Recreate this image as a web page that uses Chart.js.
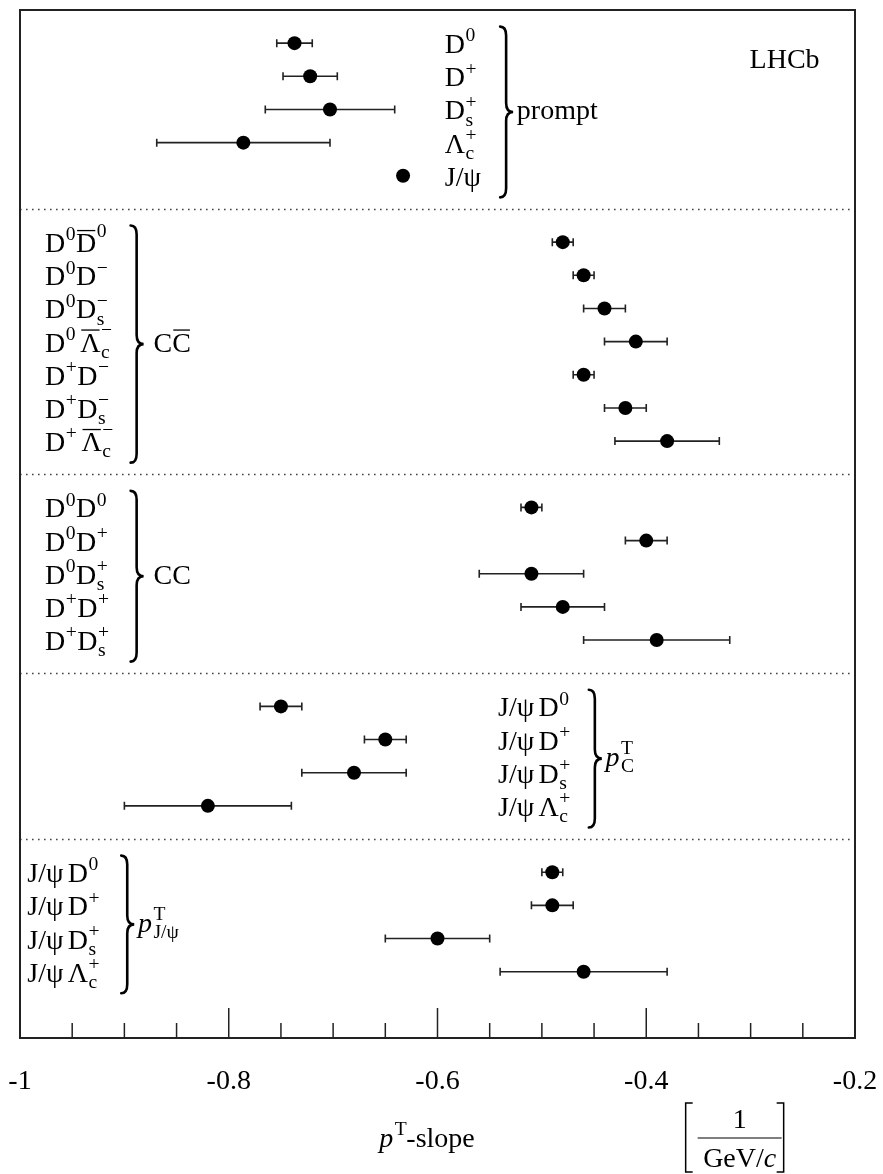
<!DOCTYPE html>
<html>
<head>
<meta charset="utf-8">
<script src="https://cdn.jsdelivr.net/npm/chart.js@4.4.0/dist/chart.umd.min.js"></script>
<style>
  html, body { margin: 0; padding: 0; background: #fff; }
  #wrap { width: 883px; height: 1174px; }
</style>
</head>
<body>
<div id="wrap"><canvas id="chart" width="883" height="1174"></canvas></div>
<script>
// pT-slope values (1/(GeV/c)), block by block
const promptNames = ["D^0", "D^+", "D_s^+", "Λ_c^+", "J/ψ"];
const promptSlope = [-0.737, -0.722, -0.703, -0.786, -0.633];
const promptErr = [0.017, 0.026, 0.062, 0.083, 0];

const ccbarNames = ["D^0~D^0", "D^0D^−", "D^0D_s^−", "D^0\u2009~Λ_c^−", "D^+D^−", "D^+D_s^−", "D^+\u2009~Λ_c^−"];
const ccbarSlope = [-0.48, -0.46, -0.44, -0.41, -0.46, -0.42, -0.38];
const ccbarErr = [0.01, 0.01, 0.02, 0.03, 0.01, 0.02, 0.05];

const ccNames = ["D^0D^0", "D^0D^+", "D^0D_s^+", "D^+D^+", "D^+D_s^+"];
const ccSlope = [-0.51, -0.40, -0.51, -0.48, -0.39];
const ccErr = [0.01, 0.02, 0.05, 0.04, 0.07];

const pcNames = ["J/ψ\u2009D^0", "J/ψ\u2009D^+", "J/ψ\u2009D_s^+", "J/ψ\u2009Λ_c^+"];
const pcSlope = [-0.75, -0.65, -0.68, -0.82];
const pcErr = [0.02, 0.02, 0.05, 0.08];

const ppsiNames = ["J/ψ\u2009D^0", "J/ψ\u2009D^+", "J/ψ\u2009D_s^+", "J/ψ\u2009Λ_c^+"];
const ppsiSlope = [-0.49, -0.49, -0.60, -0.46];
const ppsiErr = [0.01, 0.02, 0.05, 0.08];

const groupTitles = ["prompt", "C~C", "CC", "*p_C^T", "*p_{J/ψ}^T"];
const xTicks = { min: -1, max: -0.2, step: 0.05 };

// where the row labels / braces sit, in x-axis units
const labelPos = [
  { label: -0.593, brace: -0.540, title: -0.524 },
  { label: -0.976, brace: -0.894, title: -0.872 },
  { label: -0.976, brace: -0.894, title: -0.872 },
  { label: -0.542, brace: -0.455, title: -0.439 },
  { label: -0.993, brace: -0.903, title: -0.887 }
];

const groups = [
  { names: promptNames, slope: promptSlope, err: promptErr },
  { names: ccbarNames, slope: ccbarSlope, err: ccbarErr },
  { names: ccNames, slope: ccSlope, err: ccErr },
  { names: pcNames, slope: pcSlope, err: pcErr },
  { names: ppsiNames, slope: ppsiSlope, err: ppsiErr }
];

// one empty row above and below every block
let next = 0;
groups.forEach((g, k) => {
  g.title = groupTitles[k];
  g.sep = next;
  g.rows = g.names.map((_, i) => next + 1 + i);
  next += g.names.length + 1;
});
const yMax = next + 1;

const FONT = '"Liberation Serif", "Times New Roman", serif';
const fnt = (size, ital) => (ital ? "italic " : "") + size + "px " + FONT;

// tiny markup: ^x sup, _x sub, ~ overline next char, * italic next char
function parseLabel(s) {
  const out = [];
  let i = 0, bar = false, ital = false;
  const grab = () => {
    if (s[i] === "{") {
      const j = s.indexOf("}", i);
      const r = s.slice(i + 1, j);
      i = j + 1;
      return r;
    }
    return s[i++];
  };
  while (i < s.length) {
    const c = s[i];
    if (c === "^") { i++; out[out.length - 1].sup = grab(); }
    else if (c === "_") { i++; out[out.length - 1].sub = grab(); }
    else if (c === "~") { bar = true; i++; }
    else if (c === "*") { ital = true; i++; }
    else { out.push({ t: c, bar, ital }); bar = false; ital = false; i++; }
  }
  return out;
}

function drawRich(ctx, s, x, y, size, align) {
  const toks = parseLabel(s);
  const ss = size * 0.7;
  let total = 0;
  const parts = toks.map(t => {
    ctx.font = fnt(size, t.ital);
    const bw = t.t === "\u2009" ? size * 0.15 : ctx.measureText(t.t).width;
    ctx.font = fnt(ss);
    const supw = t.sup ? ctx.measureText(t.sup).width : 0;
    const subw = t.sub ? ctx.measureText(t.sub).width : 0;
    const w = bw + Math.max(supw, subw) + (t.sup || t.sub ? 1 : 0);
    total += w;
    return { t, bw, w };
  });
  let cx = align === "center" ? x - total / 2 : x;
  ctx.textAlign = "left";
  ctx.textBaseline = "alphabetic";
  ctx.fillStyle = "#000";
  for (const p of parts) {
    const t = p.t;
    ctx.font = fnt(size, t.ital);
    if (t.t !== "\u2009") ctx.fillText(t.t, cx, y);
    if (t.bar) {
      ctx.beginPath();
      ctx.lineWidth = 1.3;
      ctx.strokeStyle = "#000";
      ctx.moveTo(cx + 1, y - size * 0.77);
      ctx.lineTo(cx + p.bw - 1, y - size * 0.77);
      ctx.stroke();
    }
    const sx = cx + p.bw + (t.ital ? 1.5 : 0.5);
    ctx.font = fnt(ss);
    if (t.sup) ctx.fillText(t.sup, sx, y - size * (t.bar ? 0.55 : 0.42));
    if (t.sub) ctx.fillText(t.sub, sx, y + size * 0.22);
    cx += p.w;
  }
}

function drawBrace(ctx, x, y1, y2) {
  const w = 13, r = 6, m = (y1 + y2) / 2;
  ctx.beginPath();
  ctx.lineWidth = 2.6;
  ctx.lineCap = "round";
  ctx.strokeStyle = "#000";
  ctx.moveTo(x, y1);
  ctx.quadraticCurveTo(x + r, y1, x + r, y1 + 9);
  ctx.lineTo(x + r, m - 9);
  ctx.quadraticCurveTo(x + r, m, x + w, m);
  ctx.quadraticCurveTo(x + r, m, x + r, m + 9);
  ctx.lineTo(x + r, y2 - 9);
  ctx.quadraticCurveTo(x + r, y2, x, y2);
  ctx.stroke();
  ctx.lineCap = "butt";
}

const isMajor = v => Math.abs(v * 5 - Math.round(v * 5)) < 1e-6;

const decor = {
  id: "decor",
  beforeDatasetsDraw(chart) {
    const { ctx, chartArea: a, scales: { x, y } } = chart;
    ctx.save();
    // dotted separators between blocks
    ctx.strokeStyle = "#444";
    ctx.lineWidth = 1.4;
    ctx.setLineDash([1.6, 4.4]);
    groups.slice(1).forEach(g => {
      const py = Math.round(y.getPixelForValue(g.sep)) + 0.5;
      ctx.beginPath();
      ctx.moveTo(a.left, py);
      ctx.lineTo(a.right, py);
      ctx.stroke();
    });
    ctx.setLineDash([]);
    // horizontal error bars
    ctx.strokeStyle = "#222";
    ctx.lineWidth = 1.6;
    groups.forEach(g => {
      g.slope.forEach((v, i) => {
        const e = g.err[i];
        if (!e) return;
        const py = y.getPixelForValue(g.rows[i]);
        const x1 = x.getPixelForValue(v - e), x2 = x.getPixelForValue(v + e);
        ctx.beginPath();
        ctx.moveTo(x1, py); ctx.lineTo(x2, py);
        ctx.moveTo(x1, py - 4); ctx.lineTo(x1, py + 4);
        ctx.moveTo(x2, py - 4); ctx.lineTo(x2, py + 4);
        ctx.stroke();
      });
    });
    ctx.restore();
  },
  afterDraw(chart) {
    const { ctx, chartArea: a, scales: { x, y } } = chart;
    ctx.save();
    // frame
    ctx.strokeStyle = "#222";
    ctx.lineWidth = 2;
    ctx.strokeRect(a.left, a.top, a.right - a.left, a.bottom - a.top);
    // inward tick marks
    ctx.lineWidth = 1.5;
    x.ticks.forEach(t => {
      const px = x.getPixelForValue(t.value);
      const len = isMajor(t.value) ? 30 : 15;
      ctx.beginPath();
      ctx.moveTo(px, a.bottom);
      ctx.lineTo(px, a.bottom - len);
      ctx.stroke();
    });
    // row labels, braces and block names
    const size = 28;
    groups.forEach((g, k) => {
      const lp = labelPos[k];
      g.names.forEach((n, i) => {
        drawRich(ctx, n, x.getPixelForValue(lp.label), y.getPixelForValue(g.rows[i]) + 10, size, "left");
      });
      const first = g.rows[0], last = g.rows[g.rows.length - 1];
      drawBrace(ctx, x.getPixelForValue(lp.brace), y.getPixelForValue(first - 0.5), y.getPixelForValue(last + 0.65));
      drawRich(ctx, g.title, x.getPixelForValue(lp.title), y.getPixelForValue((first + last) / 2) + 10, size, "left");
    });
    drawRich(ctx, "LHCb", x.getPixelForValue(-0.301), y.getPixelForValue(1.45) + 10, size, "left");
    // axis title and unit
    drawRich(ctx, "*p^T-slope", x.getPixelForValue(-0.61), a.bottom + 109, size, "center");
    const ux = x.getPixelForValue(-0.3105);
    ctx.font = fnt(size);
    ctx.textAlign = "center";
    ctx.fillText("1", ux, a.bottom + 90);
    ctx.strokeStyle = "#000";
    ctx.lineWidth = 1.2;
    ctx.beginPath();
    ctx.moveTo(ux - 42, a.bottom + 100);
    ctx.lineTo(ux + 42, a.bottom + 100);
    ctx.stroke();
    drawRich(ctx, "GeV/*c", ux, a.bottom + 129, size, "center");
    const bt = a.bottom + 65, bb = a.bottom + 134;
    ctx.lineWidth = 1.5;
    ctx.beginPath();
    ctx.moveTo(ux - 47, bt); ctx.lineTo(ux - 54, bt); ctx.lineTo(ux - 54, bb); ctx.lineTo(ux - 47, bb);
    ctx.moveTo(ux + 37, bt); ctx.lineTo(ux + 44, bt); ctx.lineTo(ux + 44, bb); ctx.lineTo(ux + 37, bb);
    ctx.stroke();
    ctx.restore();
  }
};

new Chart(document.getElementById("chart"), {
  type: "scatter",
  data: {
    datasets: groups.map(g => ({
      data: g.slope.map((v, i) => ({ x: v, y: g.rows[i] })),
      pointRadius: 7,
      pointHoverRadius: 7,
      pointBorderWidth: 0,
      backgroundColor: "#000",
      borderColor: "#000"
    }))
  },
  options: {
    responsive: false,
    animation: false,
    devicePixelRatio: 1,
    layout: { padding: { left: 20, right: 28, top: 10, bottom: 76 } },
    plugins: { legend: { display: false }, tooltip: { enabled: false } },
    scales: {
      x: {
        type: "linear",
        min: xTicks.min,
        max: xTicks.max,
        afterFit(scale) {
          scale.height = 60;
          scale.paddingLeft = 0;
          scale.paddingRight = 0;
        },
        grid: { display: false, drawTicks: false },
        border: { display: false },
        ticks: {
          stepSize: xTicks.step,
          autoSkip: false,
          maxRotation: 0,
          padding: 27,
          color: "#000",
          font: { family: FONT, size: 28 },
          callback: v => (isMajor(v) ? String(+v.toFixed(1)) : "")
        }
      },
      y: {
        type: "linear",
        min: 0,
        max: yMax,
        reverse: true,
        display: false
      }
    }
  },
  plugins: [decor]
});
</script>
</body>
</html>
